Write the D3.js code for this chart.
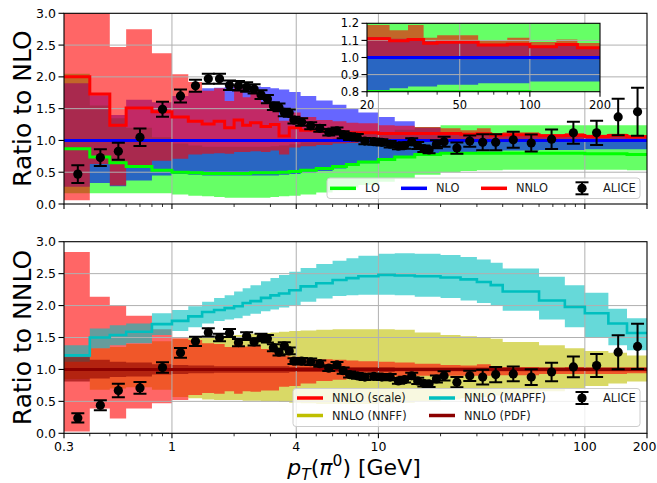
<!DOCTYPE html>
<html><head><meta charset="utf-8">
<script src="https://cdn.jsdelivr.net/npm/d3@7"></script>
<style>body{margin:0;background:#fff} text{font-family:"DejaVu Sans",sans-serif}</style>
</head><body><svg id="c" width="657" height="483"></svg>
<script>
// ---- bins (GeV) ----
const edges = [0.3,0.4,0.5,0.6,0.8,1.0,1.2,1.4,1.6,1.8,2.0,2.2,2.4,2.7,3.0,3.3,3.7,4.2,5,6,7,8,10,12,15,20,25,30,35,40,60,80,100,130,160,200];
// ---- top panel: ratio to NLO ----
const loC  = [0.87,0.74,0.65,0.59,0.53,0.50,0.49,0.48,0.48,0.48,0.48,0.48,0.49,0.49,0.49,0.50,0.51,0.53,0.56,0.59,0.62,0.66,0.70,0.74,0.78,0.80,0.80,0.80,0.80,0.80,0.80,0.80,0.79,0.79,0.78];
const loLo = [0.17,0.17,0.17,0.17,0.17,0.15,0.13,0.12,0.11,0.10,0.10,0.10,0.10,0.10,0.11,0.12,0.13,0.15,0.18,0.22,0.26,0.30,0.35,0.40,0.46,0.50,0.52,0.53,0.53,0.54,0.54,0.54,0.54,0.54,0.53];
const loHi = [2.05,1.55,1.35,1.20,1.05,0.95,0.92,0.90,0.90,0.90,0.90,0.90,0.90,0.90,0.91,0.92,0.94,0.97,1.00,1.04,1.07,1.10,1.13,1.17,1.21,1.24,1.24,1.24,1.24,1.24,1.24,1.24,1.24,1.24,1.24];
const nloLo = [0.27,0.33,0.28,0.37,0.45,0.47,0.46,0.45,0.45,0.45,0.45,0.45,0.45,0.45,0.45,0.46,0.47,0.49,0.52,0.56,0.60,0.64,0.69,0.73,0.78,0.81,0.82,0.83,0.83,0.84,0.85,0.85,0.86,0.86,0.86];
const nloHi = [1.90,1.71,1.40,1.64,1.60,1.70,1.78,1.82,1.83,1.84,1.85,1.85,1.85,1.84,1.82,1.80,1.76,1.70,1.63,1.56,1.50,1.44,1.37,1.30,1.20,1.12,1.11,1.10,1.10,1.09,1.08,1.08,1.07,1.07,1.06];
const nnloC  = [2.00,1.73,1.24,1.51,1.45,1.37,1.30,1.26,1.30,1.20,1.32,1.24,1.28,1.22,1.25,1.07,1.20,1.16,1.14,1.13,1.12,1.12,1.11,1.11,1.11,1.11,1.098,1.105,1.083,1.089,1.073,1.078,1.063,1.076,1.057];
const nnloLo = [0.06,0.63,0.29,0.59,0.68,0.71,0.78,0.79,0.80,0.79,0.82,0.82,0.83,0.82,0.84,0.78,0.89,0.91,0.93,0.95,0.96,0.97,0.98,0.99,0.99,1.00,0.99,1.00,0.99,0.99,1.00,1.00,0.99,1.00,0.99];
const nnloHi = [3.2,3.2,2.47,2.75,2.37,2.04,1.92,1.78,1.82,1.62,1.87,1.68,1.77,1.61,1.59,1.31,1.44,1.37,1.32,1.30,1.28,1.27,1.24,1.23,1.21,1.19,1.16,1.19,1.115,1.13,1.10,1.115,1.09,1.105,1.085];
// ---- bottom panel: ratio to NNLO ----
const scLo = [0.03,0.39,0.23,0.39,0.47,0.52,0.60,0.63,0.62,0.66,0.62,0.66,0.65,0.67,0.67,0.73,0.74,0.78,0.82,0.84,0.86,0.87,0.88,0.89,0.90,0.90,0.90,0.90,0.91,0.91,0.93,0.93,0.93,0.93,0.94];
const scHi = [2.84,2.14,2.00,1.84,1.63,1.49,1.46,1.41,1.40,1.35,1.42,1.36,1.38,1.32,1.27,1.22,1.20,1.18,1.16,1.15,1.14,1.13,1.12,1.11,1.09,1.07,1.06,1.08,1.03,1.04,1.03,1.04,1.03,1.03,1.03];
const nnffLo = [0.85,0.68,0.70,0.72,0.68,0.57,0.55,0.53,0.52,0.52,0.52,0.51,0.51,0.50,0.50,0.49,0.48,0.47,0.46,0.46,0.46,0.46,0.47,0.48,0.50,0.53,0.55,0.57,0.59,0.62,0.66,0.70,0.74,0.78,0.81];
const nnffHi = [1.18,1.33,1.35,1.40,1.44,1.48,1.50,1.51,1.52,1.53,1.54,1.55,1.56,1.57,1.58,1.59,1.60,1.61,1.62,1.63,1.63,1.63,1.63,1.62,1.58,1.54,1.52,1.50,1.48,1.43,1.38,1.33,1.29,1.26,1.22];
const mapC  = [1.22,1.50,1.54,1.59,1.71,1.76,1.83,1.90,1.93,1.96,1.99,2.04,2.07,2.12,2.16,2.19,2.24,2.30,2.35,2.40,2.43,2.46,2.48,2.47,2.46,2.44,2.41,2.37,2.32,2.22,2.08,1.98,1.88,1.72,1.57];
const mapLo = [1.12,1.33,1.38,1.41,1.54,1.60,1.66,1.72,1.76,1.78,1.80,1.84,1.87,1.91,1.94,1.97,2.01,2.06,2.11,2.15,2.16,2.17,2.17,2.16,2.14,2.12,2.08,2.04,2.00,1.92,1.78,1.66,1.50,1.38,1.30];
const mapHi = [1.38,1.64,1.69,1.72,1.88,1.93,1.99,2.06,2.12,2.16,2.22,2.27,2.32,2.38,2.43,2.48,2.53,2.59,2.65,2.70,2.74,2.78,2.81,2.82,2.81,2.79,2.76,2.72,2.67,2.58,2.45,2.32,2.20,1.95,1.80];
const pdfLo = [0.81,0.86,0.88,0.89,0.92,0.93,0.94,0.94,0.95,0.95,0.95,0.95,0.95,0.95,0.95,0.95,0.96,0.96,0.96,0.96,0.96,0.96,0.96,0.97,0.97,0.97,0.97,0.97,0.97,0.97,0.97,0.97,0.97,0.97,0.97];
const pdfHi = [1.20,1.15,1.12,1.11,1.08,1.07,1.06,1.06,1.05,1.05,1.05,1.05,1.05,1.05,1.05,1.05,1.04,1.04,1.04,1.04,1.04,1.04,1.04,1.03,1.03,1.03,1.03,1.03,1.03,1.03,1.03,1.03,1.03,1.03,1.03];
// ---- ALICE data ----
const pt = [0.35,0.45,0.55,0.7,0.9,1.1,1.3,1.5,1.7,1.9,2.1,2.3,2.5,2.7,2.9,3.1,3.3,3.5,3.7,3.9,4.25,4.7,5.2,5.75,6.3,6.75,7.25,7.9,8.6,9.5,10.4,11.4,12.5,13.4,14.5,15.5,16.6,17.6,19.1,20.8,24,27.7,32,37,45,55,69,88,114,145,180];
const aliceNLO = [0.47,0.73,0.83,1.05,1.49,1.70,1.86,1.97,1.97,1.87,1.86,1.84,1.81,1.72,1.65,1.54,1.52,1.44,1.43,1.32,1.29,1.23,1.19,1.13,1.15,1.09,1.06,1.05,0.99,0.98,0.97,0.94,0.91,0.92,0.98,0.92,0.87,0.85,0.94,0.98,0.88,0.99,0.97,0.97,1.01,0.96,1.02,1.12,1.12,1.37,1.45];
const aliceNNLO = [0.24,0.44,0.67,0.71,1.03,1.26,1.44,1.58,1.50,1.57,1.42,1.52,1.43,1.50,1.48,1.34,1.27,1.37,1.29,1.13,1.13,1.12,1.09,1.02,1.07,0.98,0.92,0.90,0.88,0.89,0.88,0.88,0.82,0.84,0.90,0.82,0.78,0.77,0.85,0.90,0.80,0.90,0.88,0.92,0.93,0.88,0.96,1.04,1.06,1.27,1.36];
const relErr = [0.30,0.18,0.16,0.13,0.08,0.06,0.05,0.04,0.04,0.04,0.04,0.04,0.04,0.04,0.04,0.04,0.04,0.04,0.04,0.04,0.045,0.045,0.045,0.045,0.045,0.05,0.05,0.05,0.05,0.05,0.05,0.055,0.055,0.055,0.055,0.06,0.06,0.06,0.065,0.08,0.10,0.09,0.13,0.13,0.125,0.14,0.15,0.155,0.17,0.21,0.26];
// ---- ticks ----
const xMajor = [0.3,1,4,10,100,200];
const xMajorLabels = ["0.3","1","4","10","100","200"];
const xMinor = [0.4,0.5,0.6,0.7,0.8,0.9,2,3,5,6,7,8,9,20,30,40,50,60,70,80,90];
const yTicks = [0,0.5,1.0,1.5,2.0,2.5,3.0];
const insetXMajor = [20,50,100,200];
const insetXMinor = [30,40,60,70,80,90];
const insetYTicks = [0.8,0.9,1.0,1.1,1.2];

const svg = d3.select('#c');
const defs = svg.append('defs');
const xS = d3.scaleLog().domain([0.3,200]).range([64,647]);
const yT = d3.scaleLinear().domain([0,3]).range([204,13.3]);
const yB = d3.scaleLinear().domain([0,3]).range([433.3,241.7]);
const xI = d3.scaleLog().domain([20,200]).range([367,600]);
const yI = d3.scaleLinear().domain([0.8,1.2]).range([91.7,23.3]);

function clip(id, xs, ys){
  const [x0,x1]=xs.range(), [y0,y1]=ys.range();
  defs.append('clipPath').attr('id',id).append('rect')
    .attr('x',x0).attr('y',Math.min(y0,y1)).attr('width',x1-x0).attr('height',Math.abs(y0-y1));
}
function band(g, xs, ys, lo, hi, color){
  const pts=[];
  lo.forEach((l,i)=>{pts.push({x:edges[i],l:l,h:hi[i]});pts.push({x:edges[i+1],l:l,h:hi[i]});});
  g.append('path').attr('d',d3.area().x(d=>xs(d.x)).y0(d=>ys(d.l)).y1(d=>ys(d.h))(pts))
    .attr('fill',color).attr('fill-opacity',0.6);
}
function stepLine(g, xs, ys, vals, color, w){
  const pts=[];
  vals.forEach((v,i)=>{pts.push([edges[i],v]);pts.push([edges[i+1],v]);});
  g.append('path').attr('d',d3.line().x(d=>xs(d[0])).y(d=>ys(d[1]))(pts))
    .attr('fill','none').attr('stroke',color).attr('stroke-width',w);
}
function hline(g, xs, ys, v, color, w){
  g.append('line').attr('x1',xs.range()[0]).attr('x2',xs.range()[1]).attr('y1',ys(v)).attr('y2',ys(v))
   .attr('stroke',color).attr('stroke-width',w);
}
function grid(g, xs, ys, xv, yv){
  xv.forEach(v=>g.append('line').attr('x1',xs(v)).attr('x2',xs(v)).attr('y1',ys.range()[0]).attr('y2',ys.range()[1]).attr('stroke','#b0b0b0').attr('stroke-width',1));
  yv.forEach(v=>g.append('line').attr('x1',xs.range()[0]).attr('x2',xs.range()[1]).attr('y1',ys(v)).attr('y2',ys(v)).attr('stroke','#b0b0b0').attr('stroke-width',1));
}
function points(g, ys, vals){
  pt.forEach((p,i)=>{
    const x=xS(p), v=vals[i], e=v*relErr[i];
    g.append('line').attr('x1',x).attr('x2',x).attr('y1',ys(v-e)).attr('y2',ys(v+e)).attr('stroke','#000').attr('stroke-width',2);
    [v-e,v+e].forEach(c=>g.append('line').attr('x1',x-6.5).attr('x2',x+6.5).attr('y1',ys(c)).attr('y2',ys(c)).attr('stroke','#000').attr('stroke-width',2));
    g.append('circle').attr('cx',x).attr('cy',ys(v)).attr('r',4.6).attr('fill','#000');
  });
}
function frame(g, xs, ys, opt){
  const [x0,x1]=xs.range(), [yb,yt]=ys.range();
  g.append('rect').attr('x',x0).attr('y',yt).attr('width',x1-x0).attr('height',yb-yt)
    .attr('fill','none').attr('stroke','#000').attr('stroke-width',1.1);
  opt.xMajor.forEach(v=>g.append('line').attr('x1',xs(v)).attr('x2',xs(v)).attr('y1',yb).attr('y2',yb+5).attr('stroke','#000').attr('stroke-width',1.1));
  opt.xMinor.forEach(v=>g.append('line').attr('x1',xs(v)).attr('x2',xs(v)).attr('y1',yb).attr('y2',yb+3).attr('stroke','#000').attr('stroke-width',0.8));
  opt.yTicks.forEach(v=>{
    g.append('line').attr('x1',x0-5.5).attr('x2',x0).attr('y1',ys(v)).attr('y2',ys(v)).attr('stroke','#000').attr('stroke-width',1.1);
    g.append('text').attr('x',x0-8).attr('y',ys(v)).attr('dy','0.36em').attr('text-anchor','end')
     .attr('font-size',opt.fs).attr('fill','#000').text(d3.format('.1f')(v));
  });
  if(opt.xLabels){
    opt.xMajor.forEach((v,i)=>{
      const last = opt.clampRight && i===opt.xMajor.length-1;
      g.append('text').attr('x',last?656.5:xs(v)).attr('y',yb+opt.xlabDy).attr('text-anchor',last?'end':'middle')
        .attr('font-size',opt.fs).attr('fill','#000').text(opt.xLabels[i]);
    });
  }
}
function legendBox(g,x,y,w,h){
  g.append('rect').attr('x',x).attr('y',y).attr('width',w).attr('height',h).attr('rx',3)
   .attr('fill','#fff').attr('fill-opacity',0.8).attr('stroke','#cccccc').attr('stroke-width',1);
}
function legLine(g,x,y,color,label){
  g.append('line').attr('x1',x).attr('x2',x+26).attr('y1',y).attr('y2',y).attr('stroke',color).attr('stroke-width',3.5);
  g.append('text').attr('x',x+35).attr('y',y).attr('dy','0.36em').attr('font-size',11.4).attr('fill','#1a1a1a').text(label);
}
function legAlice(g,x,y){
  g.append('line').attr('x1',x).attr('x2',x).attr('y1',y-6).attr('y2',y+6).attr('stroke','#000').attr('stroke-width',2);
  [y-6,y+6].forEach(c=>g.append('line').attr('x1',x-6.5).attr('x2',x+6.5).attr('y1',c).attr('y2',c).attr('stroke','#000').attr('stroke-width',2));
  g.append('circle').attr('cx',x).attr('cy',y).attr('r',4.6).attr('fill','#000');
  g.append('text').attr('x',x+21).attr('y',y).attr('dy','0.36em').attr('font-size',11.4).attr('fill','#1a1a1a').text('ALICE');
}

// ================= TOP PANEL =================
clip('ct', xS, yT);
const gT = svg.append('g').attr('clip-path','url(#ct)');
band(gT, xS, yT, loLo, loHi, '#00ff00');
band(gT, xS, yT, nloLo, nloHi, '#0000ff');
band(gT, xS, yT, nnloLo, nnloHi, '#ff0000');
grid(gT, xS, yT, [1,4,10,100], [0.5,1,1.5,2,2.5]);
stepLine(gT, xS, yT, loC, '#00ff00', 3);
hline(gT, xS, yT, 1.0, '#0000ff', 3);
stepLine(gT, xS, yT, nnloC, '#ff0000', 3);
points(gT, yT, aliceNLO);
frame(svg.append('g'), xS, yT, {xMajor:xMajor, xMinor:xMinor, yTicks:yTicks, fs:12.5});

// inset
clip('ci', xI, yI);
svg.append('rect').attr('x',367).attr('y',23.3).attr('width',233).attr('height',68.4).attr('fill','#fff');
const gI = svg.append('g').attr('clip-path','url(#ci)');
band(gI, xI, yI, loLo, loHi, '#00ff00');
band(gI, xI, yI, nloLo, nloHi, '#0000ff');
band(gI, xI, yI, nnloLo, nnloHi, '#ff0000');
grid(gI, xI, yI, [50,100], [0.9,1.0,1.1]);
stepLine(gI, xI, yI, loC, '#00ff00', 3);
hline(gI, xI, yI, 1.0, '#0000ff', 3);
stepLine(gI, xI, yI, nnloC, '#ff0000', 3);
frame(svg.append('g'), xI, yI, {xMajor:insetXMajor, xMinor:insetXMinor, yTicks:insetYTicks, fs:11.5,
  xLabels:["20","50","100","200"], xlabDy:17.5});

// top legend
const lT = svg.append('g');
legendBox(lT, 327, 178, 313, 20.5);
legLine(lT, 330, 188.3, '#00ff00', 'LO');
legLine(lT, 401, 188.3, '#0000ff', 'NLO');
legLine(lT, 481, 188.3, '#ff0000', 'NNLO');
legAlice(lT, 582, 188.3);

// ================= BOTTOM PANEL =================
clip('cb', xS, yB);
const gB = svg.append('g').attr('clip-path','url(#cb)');
band(gB, xS, yB, nnffLo, nnffHi, '#bfbf00');
band(gB, xS, yB, scLo, scHi, '#ff0000');
band(gB, xS, yB, mapLo, mapHi, '#00bfbf');
band(gB, xS, yB, pdfLo, pdfHi, '#8b0000');
grid(gB, xS, yB, [1,4,10,100], [0.5,1,1.5,2,2.5]);
hline(gB, xS, yB, 1.0, '#ff0000', 3);
hline(gB, xS, yB, 1.0, '#bfbf00', 3);
stepLine(gB, xS, yB, mapC, '#00bfbf', 2.6);
hline(gB, xS, yB, 1.0, '#8b0000', 3);
points(gB, yB, aliceNNLO);
frame(svg.append('g'), xS, yB, {xMajor:xMajor, xMinor:xMinor, yTicks:yTicks, fs:12.5,
  xLabels:xMajorLabels, xlabDy:17.3, clampRight:true});

// bottom legend
const lB = svg.append('g');
legendBox(lB, 293, 388.5, 347, 38);
legLine(lB, 297, 398, '#ff0000', 'NNLO (scale)');
legLine(lB, 297, 415.5, '#bfbf00', 'NNLO (NNFF)');
legLine(lB, 429, 398, '#00bfbf', 'NNLO (MAPFF)');
legLine(lB, 429, 415.5, '#8b0000', 'NNLO (PDF)');
legAlice(lB, 582, 398);

// axis labels
svg.append('text').attr('transform','translate(22,108.6) rotate(-90)').attr('text-anchor','middle')
  .attr('dominant-baseline','central').attr('font-size',25).attr('fill','#000').text('Ratio to NLO');
svg.append('text').attr('transform','translate(22,337.5) rotate(-90)').attr('text-anchor','middle')
  .attr('dominant-baseline','central').attr('font-size',25).attr('fill','#000').text('Ratio to NNLO');
const xl = svg.append('text').attr('x',354).attr('y',475).attr('text-anchor','middle').attr('font-size',22).attr('fill','#000');
xl.append('tspan').attr('font-style','italic').text('p');
xl.append('tspan').attr('font-style','italic').attr('font-size',15.5).attr('dy',4.5).text('T');
xl.append('tspan').attr('dy',-4.5).text('(');
xl.append('tspan').attr('font-style','italic').text('π');
xl.append('tspan').attr('font-size',15.5).attr('dy',-9).text('0');
xl.append('tspan').attr('dy',9).text(') [GeV]');
</script></body></html>
